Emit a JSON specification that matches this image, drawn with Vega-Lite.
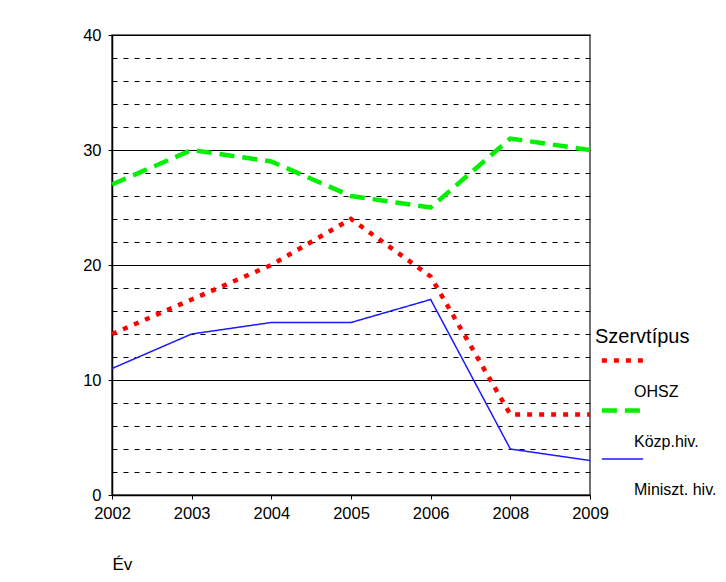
{
  "$schema": "https://vega.github.io/schema/vega-lite/v6.json",
  "autosize": {"type": "none"},
  "width": 478,
  "height": 460,
  "padding": {"left": 112, "top": 35, "right": 136, "bottom": 87},
  "background": "white",
  "config": {
    "font": "Liberation Sans",
    "view": {"stroke": "#444444", "strokeWidth": 1.5}
  },
  "data": {
    "values": [
      {"ev": "2002", "szerv": "OHSZ", "v": 14},
      {"ev": "2003", "szerv": "OHSZ", "v": 17},
      {"ev": "2004", "szerv": "OHSZ", "v": 20},
      {"ev": "2005", "szerv": "OHSZ", "v": 24},
      {"ev": "2006", "szerv": "OHSZ", "v": 19},
      {"ev": "2008", "szerv": "OHSZ", "v": 7},
      {"ev": "2009", "szerv": "OHSZ", "v": 7},
      {"ev": "2002", "szerv": "Közp.hiv.", "v": 27},
      {"ev": "2003", "szerv": "Közp.hiv.", "v": 30},
      {"ev": "2004", "szerv": "Közp.hiv.", "v": 29},
      {"ev": "2005", "szerv": "Közp.hiv.", "v": 26},
      {"ev": "2006", "szerv": "Közp.hiv.", "v": 25},
      {"ev": "2008", "szerv": "Közp.hiv.", "v": 31},
      {"ev": "2009", "szerv": "Közp.hiv.", "v": 30},
      {"ev": "2002", "szerv": "Miniszt. hiv.", "v": 11},
      {"ev": "2003", "szerv": "Miniszt. hiv.", "v": 14},
      {"ev": "2004", "szerv": "Miniszt. hiv.", "v": 15},
      {"ev": "2005", "szerv": "Miniszt. hiv.", "v": 15},
      {"ev": "2006", "szerv": "Miniszt. hiv.", "v": 17},
      {"ev": "2008", "szerv": "Miniszt. hiv.", "v": 4},
      {"ev": "2009", "szerv": "Miniszt. hiv.", "v": 3}
    ]
  },
  "mark": {"type": "line", "strokeCap": "butt", "strokeJoin": "miter"},
  "encoding": {
    "x": {
      "field": "ev", "type": "ordinal",
      "scale": {"type": "point", "padding": 0},
      "axis": {
        "title": "Év", "titleFontSize": 17, "titleFontWeight": "normal", "titleColor": "black",
        "titleAnchor": "start", "titleAlign": "left", "titleX": 0, "titleY": 74, "titleBaseline": "alphabetic",
        "labelAngle": 0, "labelFontSize": 16.5, "labelColor": "black", "labelPadding": 6,
        "tickSize": 4, "tickColor": "black", "domainColor": "black", "domainWidth": 1.5, "grid": false
      }
    },
    "y": {
      "field": "v", "type": "quantitative",
      "scale": {"domain": [0, 40], "nice": false},
      "axis": {
        "title": null,
        "values": [0, 2, 4, 6, 8, 10, 12, 14, 16, 18, 20, 22, 24, 26, 28, 30, 32, 34, 36, 38, 40],
        "labelExpr": "datum.value % 10 === 0 ? datum.label : ''",
        "labelFontSize": 16.5, "labelColor": "black", "labelPadding": 7,
        "tickSize": 4, "tickColor": "black",
        "tickOpacity": {"condition": {"test": "datum.value % 10 === 0", "value": 1}, "value": 0},
        "domainColor": "black", "domainWidth": 1.5,
        "grid": true, "gridColor": "black", "gridOpacity": 1, "gridWidth": 1,
        "gridDash": {"condition": {"test": "datum.value % 10 === 0", "value": []}, "value": [5, 6]}
      }
    },
    "color": {
      "field": "szerv", "type": "nominal",
      "scale": {"domain": ["OHSZ", "Közp.hiv.", "Miniszt. hiv."], "range": ["#ff0000", "#00f000", "#1a1aff"]},
      "legend": {
        "title": "Szervtípus", "orient": "none", "legendX": 483, "legendY": 292,
        "titleFontSize": 20, "titleFontWeight": "normal", "titleColor": "black", "titlePadding": 3,
        "labelFontSize": 16, "labelColor": "black", "labelOffset": 1,
        "symbolType": "M-2.5,0H2.5", "symbolSize": 272, "symbolOffset": 17, "rowPadding": 0,
        "encode": {"labels": {"update": {"dy": {"value": 31}}}}
      }
    },
    "strokeDash": {
      "field": "szerv", "type": "nominal",
      "scale": {"domain": ["OHSZ", "Közp.hiv.", "Miniszt. hiv."], "range": [[5, 7], [15, 8], [1, 0]]}
    },
    "strokeWidth": {
      "field": "szerv", "type": "nominal",
      "scale": {"type": "ordinal", "domain": ["OHSZ", "Közp.hiv.", "Miniszt. hiv."], "range": [4.5, 4.5, 1.5]}
    }
  }
}
